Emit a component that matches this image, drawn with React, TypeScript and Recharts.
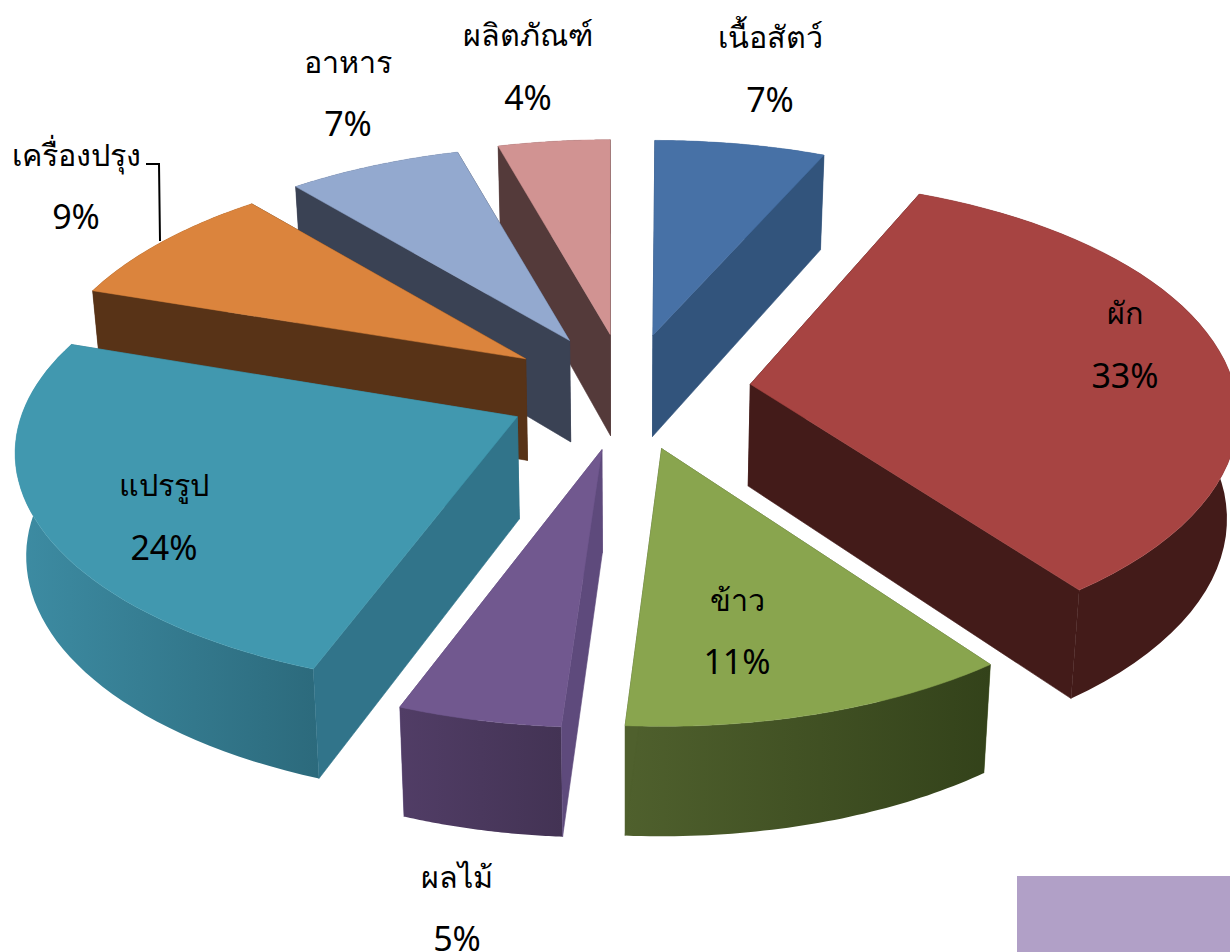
import React from 'react';
import { PieChart, Pie, Cell } from 'recharts';

// Listed counter-clockwise from 12 o'clock so nearer slices paint over farther ones.
const categories = ['ผลิตภัณฑ์', 'อาหาร', 'เครื่องปรุง', 'แปรรูป', 'ผลไม้', 'ข้าว', 'ผัก', 'เนื้อสัตว์'];
const shares = [4.4, 6.8, 8.8, 24.4, 4.6, 11, 33.3, 6.7];
const topColors = ['#d19392', '#93a9cf', '#db843d', '#4198af', '#71588f', '#89a54e', '#a74442', '#4771a6'];
const wallColors = ['#543a3a', '#3a4254', '#583317', '#31748a', '#5e4a7c', '#4f602d', '#431b19', '#32547c'];
const rimLeftColors = ['#543a3a', '#3a4254', '#583317', '#3d8ca3', '#513d66', '#4f602d', '#431b19', '#32547c'];
const rimRightColors = ['#543a3a', '#3a4254', '#583317', '#2c6a7c', '#433354', '#33421a', '#431b19', '#32547c'];
const widthScale = [1, 1, 1, 1.03, 1, 1, 1, 1];
// Small per-slice corrections of the rim relative to the slice's apex
const rimShiftX = [0, 0, 0, 0, -4, 0, 0, 2];
const rimShiftY = [0, 0, -1, -5, 0, 0, -10, 0];

// Label layout (centre x, name centre y, percent centre y)
const labelLayout: [number, number, number][] = [
  [528, 34, 97], [348, 61, 123], [76, 154, 216], [164, 484, 547],
  [457, 876, 938], [737, 599, 661], [1125, 312, 375], [770, 36, 99],
];

const rows = categories.map((name, i) => ({ name, value: shares[i] }));

// Projection of the tilted disc
const CX = 627, CY = 390;
const VANISH_X = 630;
const EX_RIGHT = 124, EX_LEFT = 122, EY_BACK = 56, EY_FRONT = 61;
const RX = 480, RY = 229, K = 0.1755;
const DEPTH_BACK = 94, DEPTH_FRONT = 110;
const CONVERGE = 0.982;
const FONT = '"Noto Sans", sans-serif';

type P = [number, number];
const rad = (d: number) => (d * Math.PI) / 180;

function rimPoint(ax: number, ay: number, clock: number, sx: number): P {
  const X = Math.sin(rad(clock));
  const Y = -Math.cos(rad(clock));
  const w = 1 - K * Y;
  return [ax + (RX * sx * X) / w, ay + (RY * Y) / w];
}
function drop(p: P, normY: number): P {
  const d = DEPTH_BACK + ((DEPTH_FRONT - DEPTH_BACK) * (normY + 1)) / 2;
  return [VANISH_X + (p[0] - VANISH_X) * CONVERGE, p[1] + d];
}
const toPath = (pts: P[]) => 'M' + pts.map((p) => `${p[0].toFixed(1)},${p[1].toFixed(1)}`).join('L') + 'Z';

function Slice3D(props: any) {
  const { startAngle, endAngle, index } = props;
  const a = 90 - Math.max(startAngle, endAngle);
  const b = 90 - Math.min(startAngle, endAngle);
  const mid = (a + b) / 2;
  const cm = Math.cos(rad(mid));
  const sm = Math.sin(rad(mid));
  const ax = CX + (sm > 0 ? EX_RIGHT : EX_LEFT) * sm;
  const ay = CY - (cm > 0 ? EY_BACK : EY_FRONT) * cm;
  const apex: P = [ax, ay];
  const arc: P[] = [];
  const N = 48;
  for (let i = 0; i <= N; i++) {
    arc.push(rimPoint(ax + rimShiftX[index], ay + rimShiftY[index], a + ((b - a) * i) / N, widthScale[index]));
  }
  const ny = (c: number) => -Math.cos(rad(c));
  const arcDrop = arc.map((p, i) => drop(p, ny(a + ((b - a) * i) / N)));
  const apexDrop = drop(apex, ny(mid) * 0.1);
  const first = arc[0], last = arc[N], m = arc[N / 2];

  const wallPts = (p: P, pd: P): P[] => [apex, p, pd, apexDrop];
  // The wall hangs from edge apex→p; it is hidden if the slice top lies on the downward side.
  const hidden = (p: P) => {
    const ex = p[0] - ax, ey = p[1] - ay;
    const cM = ex * (m[1] - ay) - ey * (m[0] - ax);
    return cM * ex > 0;
  };
  const walls = [
    { pts: wallPts(first, arcDrop[0]), hide: hidden(first) },
    { pts: wallPts(last, arcDrop[N]), hide: hidden(last) },
  ].sort((u, v) => Number(v.hide) - Number(u.hide));
  const rim = [...arc, ...arcDrop.slice().reverse()];
  const gid = `rim-${index}`;
  const wall = wallColors[index];
  return (
    <g>
      <defs>
        <linearGradient id={gid} x1="0" x2="1" y1="0" y2="0">
          <stop offset="0" stopColor={rimLeftColors[index]} />
          <stop offset="1" stopColor={rimRightColors[index]} />
        </linearGradient>
      </defs>
      <path d={toPath(walls[0].pts)} fill={wall} stroke={wall} strokeWidth={0.6} />
      <path d={toPath(rim)} fill={`url(#${gid})`} />
      <path d={toPath(walls[1].pts)} fill={wall} stroke={wall} strokeWidth={0.6} />
      <path d={toPath([apex, ...arc])} fill={topColors[index]} stroke={topColors[index]} strokeWidth={0.5} />
    </g>
  );
}

function SliceLabel(props: any) {
  const { index, percent } = props;
  const [x, y1, y2] = labelLayout[index];
  const common = { textAnchor: 'middle' as const, dominantBaseline: 'central' as const, fontFamily: FONT, fill: '#000' };
  return (
    <g>
      {categories[index] === 'เครื่องปรุง' && (
        <polyline points="146,164 159,164 160,241" fill="none" stroke="#000" strokeWidth={2} />
      )}
      <text x={x} y={y1} fontSize={30.5} {...common}>{categories[index]}</text>
      <text x={x} y={y2} fontSize={34} {...common}>{`${Math.round(percent * 100)}%`}</text>
    </g>
  );
}

export default function App() {
  return (
    <div style={{ position: 'absolute', left: 0, top: 0, width: 1230, height: 952, background: '#fff', overflow: 'hidden' }}>
      <PieChart width={1230} height={952} margin={{ top: 0, right: 0, bottom: 0, left: 0 }}>
        <Pie
          data={rows}
          dataKey="value"
          nameKey="name"
          cx={CX}
          cy={CY}
          innerRadius={0}
          outerRadius={RX}
          startAngle={90}
          endAngle={450}
          paddingAngle={0}
          stroke="none"
          shape={Slice3D}
          label={SliceLabel}
          labelLine={false}
          isAnimationActive={false}
        >
          {rows.map((r, i) => (
            <Cell key={r.name} fill={topColors[i]} />
          ))}
        </Pie>
      </PieChart>
      <div style={{ position: 'absolute', left: 1017, top: 876, width: 213, height: 76, background: '#b1a0c7' }} />
    </div>
  );
}
